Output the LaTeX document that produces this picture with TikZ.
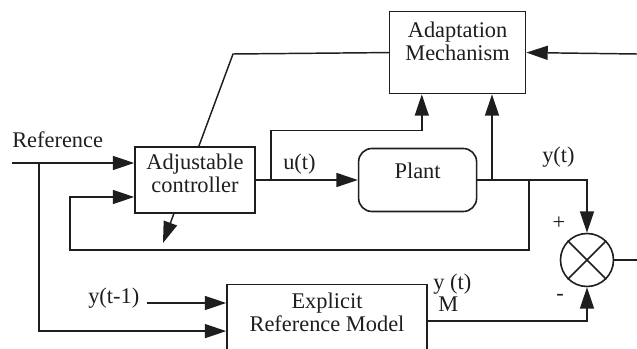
\documentclass[tikz,border=0pt]{standalone}
\usepackage{fontspec}
\setmainfont{Liberation Serif}
\usetikzlibrary{arrows.meta,positioning,backgrounds,calc}
\definecolor{mraline}{HTML}{1E1E1E}
\newcommand{\mrafont}{\fontsize{16.8}{17.25}\selectfont}
\tikzset{
  block/.style={
    draw=mraline,
    fill=white,
    line width=1.2pt,
    align=center,
    font=\mrafont,
    text=mraline,
    inner sep=0pt
  },
  plantbox/.style={
    block,
    rounded corners=10pt
  },
  sumnode/.style={
    circle,
    draw=mraline,
    fill=white,
    line width=1.2pt,
    minimum size=39.75pt,
    inner sep=0pt
  },
  sig/.style={
    font=\mrafont,
    text=mraline,
    inner sep=0pt
  },
  arrow/.style={
    -{Triangle[length=16pt,width=10.5pt]},
    line width=1.1pt,
    draw=mraline
  },
  wire/.style={
    line width=1.1pt,
    draw=mraline
  }
}

\begin{document}
\begin{tikzpicture}[x=0.75pt, y=-0.75pt]

\useasboundingbox (0,0) rectangle (637,349);
\clip (0,0) rectangle (637,349);

% blocks
\node[block, minimum width=90pt, minimum height=49.5pt] (ctrl) at (195,180)
  {Adjustable\\controller\\[-6.75pt]~};
\node[plantbox, minimum width=88.5pt, minimum height=47.25pt, right=76.5pt of ctrl] (plant)
  {Plant\\[-3pt]~};
\node[block, minimum width=102pt, minimum height=61.5pt, above=40pt of plant, xshift=30pt] (adapt)
  {Adaptation\\Mechanism\\~};
\node[block, minimum width=150pt, minimum height=59.25pt, below=52.5pt of ctrl, xshift=99pt] (model)
  {Explicit\\Reference Model\\~};
\node[sumnode] (sum) at (587,260) {};

% signal labels
\node[sig, anchor=base west] (reflbl) at (12,148) {Reference};
\node[sig, anchor=base west] (ulbl) at (283,170) {u(t)};
\node[sig, anchor=base west] (ylbl) at (542,163) {y(t)};
\node[sig, anchor=base west] (prevlbl) at (88,304) {y(t-1)};
\node[sig, anchor=base west] (ymlbl) at (433,290) {y (t)};
\node[sig, anchor=base west] (msub) at (438,312) {M};
\node[sig] (plus) at (559,223) {+};
\node[sig] (minus) at (560,297) {-};

% branch points and free ends
\coordinate (refin) at (12,163);
\coordinate (refbr) at (39,163);
\coordinate (previn) at (147,303);
\coordinate (ubr) at (271,180);
\coordinate (ybr) at (492,180);
\coordinate (fbbr) at (529,180);
\coordinate (fbleft) at (70,250);
\coordinate (adjtop) at (233,54);
\coordinate (adjtip) at (163,243);
\coordinate (yin) at (637,54);
\coordinate (eout) at (637,260);

\draw[arrow] (refin) -- (refin -| ctrl.west);
\draw[arrow] (refbr) |- ($(model.west)+(0,7)$);
\draw[arrow] (previn) -- (previn -| model.west);
\draw[arrow] (ctrl.east) -- (plant.west);
\draw[arrow] (ubr) |- ($(adapt.south west)+(33,36)$) -- ($(adapt.south west)+(33,0)$);
\draw[arrow] (plant.east) -| (sum.north);
\draw[arrow] (ybr) -- (ybr |- adapt.south);
\draw[arrow] (fbbr) |- (fbleft) |- ($(ctrl.west)+(0,17)$);
\draw[arrow] (yin) -- (adapt.east);
\draw[arrow] ($(model.east)+(0,-3)$) -| (sum.south);
\draw[wire] (sum.east) -- (eout);
\draw[wire] (sum.north west) -- (sum.south east) (sum.north east) -- (sum.south west);

\begin{scope}[on background layer]
  \draw[arrow] (adapt.west) -- (adjtop) -- (adjtip);
\end{scope}

\end{tikzpicture}
\end{document}
